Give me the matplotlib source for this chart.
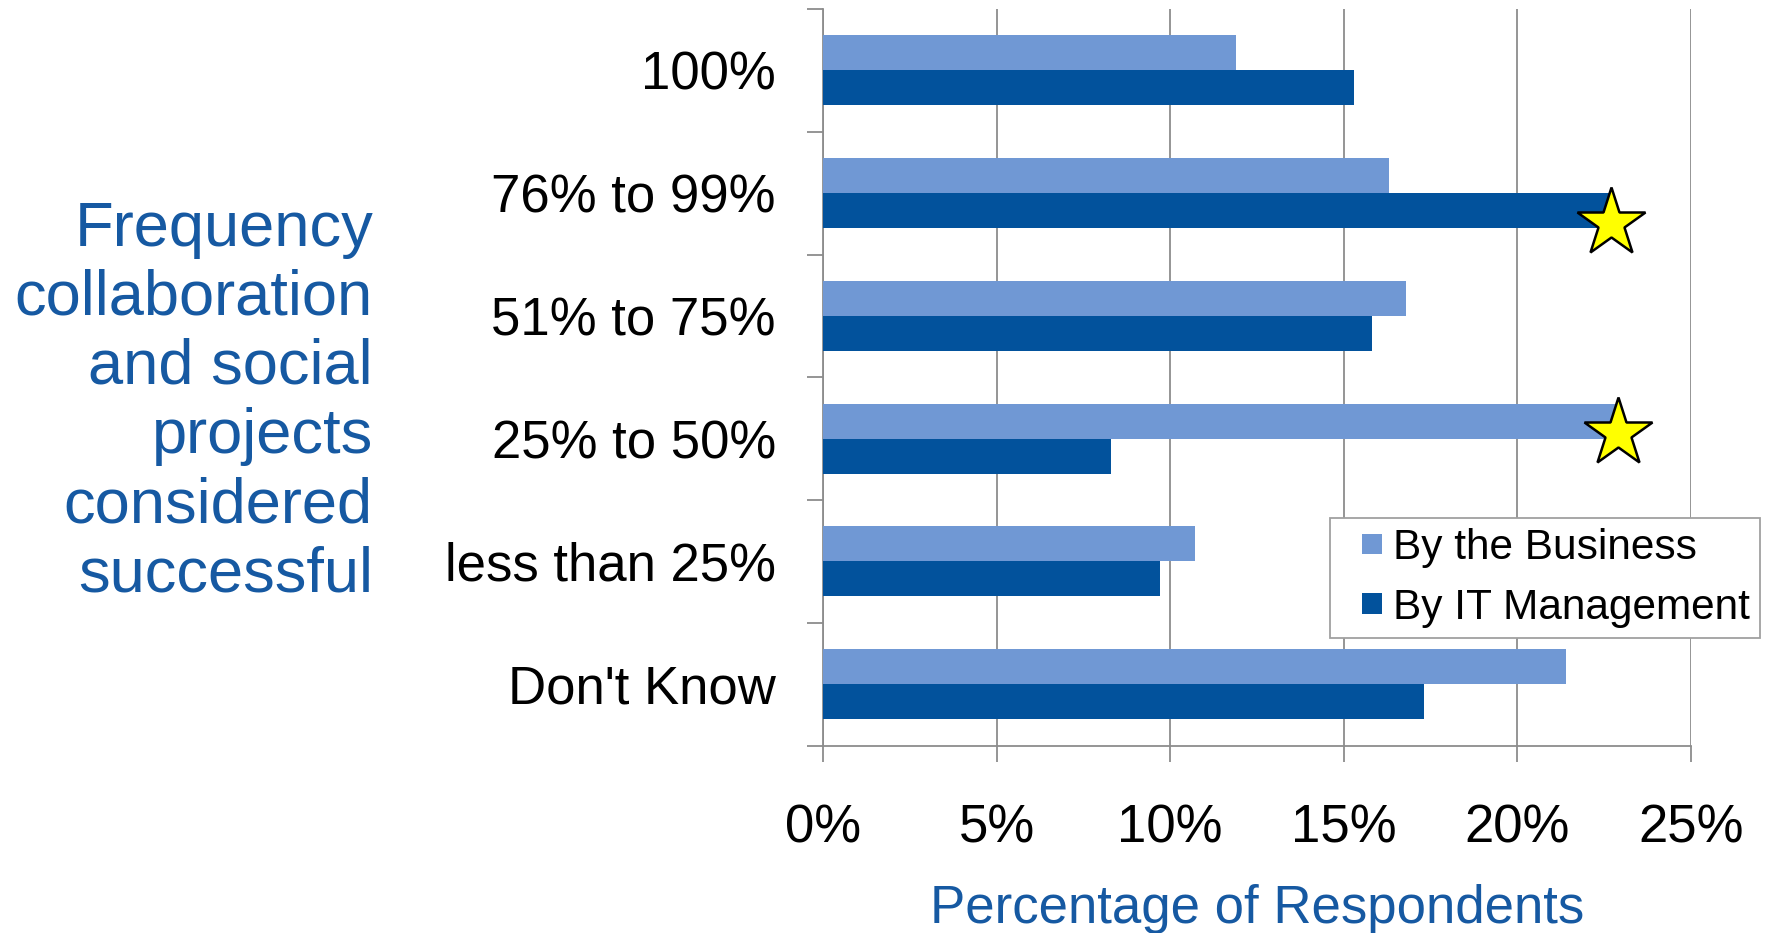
import matplotlib
matplotlib.use("Agg")
import matplotlib.pyplot as plt
from matplotlib.patches import Rectangle
from matplotlib.legend_handler import HandlerPatch, update_from_first_child
from matplotlib.container import BarContainer
import numpy as np

categories = ["100%", "76% to 99%", "51% to 75%", "25% to 50%", "less than 25%", "Don't Know"]
by_business = [11.9, 16.3, 16.8, 22.9, 10.7, 21.4]
by_it = [15.3, 22.7, 15.8, 8.3, 9.7, 17.3]
star_business = [False, False, False, True, False, False]
star_it = [False, True, False, False, False, False]
xticks = [0, 5, 10, 15, 20, 25]
xtick_labels = ["0%", "5%", "10%", "15%", "20%", "25%"]
series_names = ["By the Business", "By IT Management"]
title_text = "Frequency\ncollaboration\nand social\nprojects\nconsidered\nsuccessful"
xlabel_text = "Percentage of Respondents"

LIGHT = "#7098D4"
DARK = "#02529C"
TXTBLUE = "#1659A2"
GRID = "#8C8C8C"

plt.rcParams['font.family'] = ['Liberation Sans', 'DejaVu Sans']

fig = plt.figure(figsize=(17.71, 9.33), dpi=100)
ax = fig.add_axes([823/1771, 1-745.5/933, 868/1771, (745.5-9)/933])

y = np.arange(len(categories))
h = 0.285
ax.barh(y - h/2, by_business, height=h, color=LIGHT, label=series_names[0], zorder=3)
ax.barh(y + h/2, by_it, height=h, color=DARK, label=series_names[1], zorder=3)

for i in range(len(categories)):
    if star_business[i]:
        ax.plot(by_business[i], y[i] - h/2 + 0.1, marker='*', markersize=52,
                markerfacecolor='#FFFF00', markeredgecolor='black', markeredgewidth=1.8,
                zorder=5, clip_on=False)
    if star_it[i]:
        ax.plot(by_it[i], y[i] + h/2 + 0.1, marker='*', markersize=52,
                markerfacecolor='#FFFF00', markeredgecolor='black', markeredgewidth=1.8,
                zorder=5, clip_on=False)

ax.set_xlim(0, 25)
ax.set_ylim(len(categories) - 0.5, -0.5)
ax.set_xticks(xticks)
ax.set_xticklabels(xtick_labels)
ax.set_yticks(y)
ax.set_yticklabels(categories)
ax.set_yticks(np.arange(-0.5, len(categories) + 0.5, 1), minor=True)

ax.tick_params(axis='y', which='major', length=0, pad=34, labelsize=38, labelcolor='black')
ax.tick_params(axis='y', which='minor', length=11.5, width=1.3, color=GRID, direction='out')
ax.tick_params(axis='x', which='major', length=11.5, width=1.3, color=GRID, direction='out',
               pad=30, labelsize=38, labelcolor='black')

ax.grid(axis='x', color=GRID, linewidth=1.3, zorder=0)
ax.set_axisbelow(True)
for s in ['top', 'right']:
    ax.spines[s].set_visible(False)
for s in ['left', 'bottom']:
    ax.spines[s].set_color(GRID)
    ax.spines[s].set_linewidth(1.3)

ax.set_xlabel(xlabel_text, fontsize=38, color=TXTBLUE, labelpad=22)

fig.text(373/1771, 1-402/933, title_text, ha='right', va='center', fontsize=45.5,
         color=TXTBLUE, linespacing=1.218)

SQ = 14.7  # legend square size in points


def square_patch(legend, orig_handle, xdescent, ydescent, width, height, fontsize):
    return Rectangle((-xdescent + width - SQ, -ydescent + (height - SQ) / 2), SQ, SQ)


leg = ax.legend(loc='upper left', bbox_to_anchor=(1330/1771, 1-518/933),
                bbox_transform=fig.transFigure, borderaxespad=0, fontsize=30.5,
                frameon=True, fancybox=False, shadow=False, framealpha=1,
                edgecolor='#A0A0A0', handlelength=0.99, handleheight=0.5,
                handletextpad=0.25, labelspacing=0.46, borderpad=0.24,
                handler_map={BarContainer: HandlerPatch(patch_func=square_patch,
                                                        update_func=update_from_first_child)})
leg.get_frame().set_linewidth(1.3)

fig.savefig("out.png", dpi=100)
